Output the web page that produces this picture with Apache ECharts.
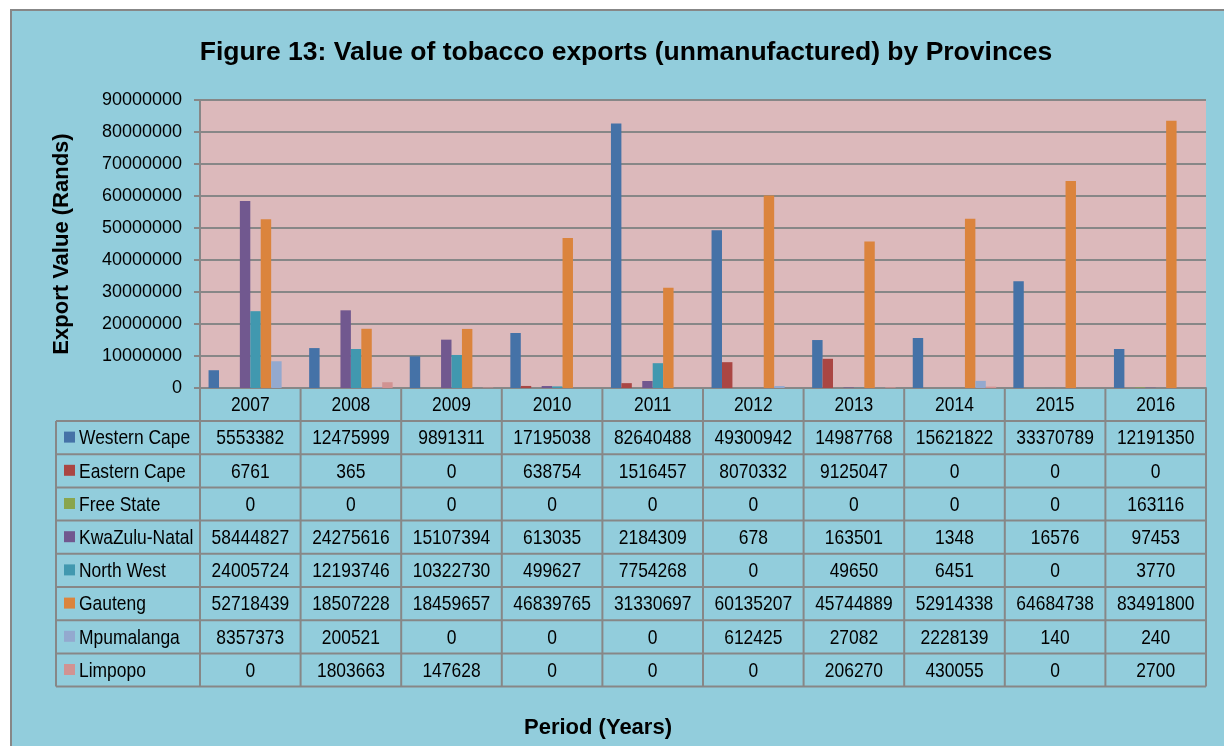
<!DOCTYPE html>
<html>
<head>
    <meta charset="utf-8" />
    <title>Value of tobacco exports by Provinces</title>
    <script type="text/javascript" src="https://cdn.jsdelivr.net/npm/echarts@6/dist/echarts.min.js"></script>
    <style>
        html, body { margin: 0; padding: 0; background: #ffffff; }
    </style>
</head>
<body>
<div id="main" style="width: 1224px;height:746px;"></div>
<script type="text/javascript">
    // data
    var years = ['2007', '2008', '2009', '2010', '2011', '2012', '2013', '2014', '2015', '2016'];
    var provinces = ['Western Cape', 'Eastern Cape', 'Free State', 'KwaZulu-Natal', 'North West', 'Gauteng', 'Mpumalanga', 'Limpopo'];
    var westernCape  = [5553382, 12475999, 9891311, 17195038, 82640488, 49300942, 14987768, 15621822, 33370789, 12191350];
    var easternCape  = [6761, 365, 0, 638754, 1516457, 8070332, 9125047, 0, 0, 0];
    var freeState    = [0, 0, 0, 0, 0, 0, 0, 0, 0, 163116];
    var kwaZuluNatal = [58444827, 24275616, 15107394, 613035, 2184309, 678, 163501, 1348, 16576, 97453];
    var northWest    = [24005724, 12193746, 10322730, 499627, 7754268, 0, 49650, 6451, 0, 3770];
    var gauteng      = [52718439, 18507228, 18459657, 46839765, 31330697, 60135207, 45744889, 52914338, 64684738, 83491800];
    var mpumalanga   = [8357373, 200521, 0, 0, 0, 612425, 27082, 2228139, 140, 240];
    var limpopo      = [0, 1803663, 147628, 0, 0, 0, 206270, 430055, 0, 2700];
    var yTicks = [0, 10000000, 20000000, 30000000, 40000000, 50000000, 60000000, 70000000, 80000000, 90000000];

    var rows = [westernCape, easternCape, freeState, kwaZuluNatal, northWest, gauteng, mpumalanga, limpopo];
    var colors = ['#4572A7', '#AA4643', '#89A54E', '#71588F', '#4198AF', '#DB843D', '#93A9CF', '#D19392'];

    var fontMain = "'Liberation Sans', Arial, sans-serif";
    var lineColor = '#878787';
    var squeeze = 0.83;   // no narrow font installed, so table text is squeezed

    var myChart = echarts.init(document.getElementById('main'));

    var series = [];
    for (var i = 0; i < provinces.length; i++) {
        series.push({
            name: provinces[i],
            type: 'bar',
            data: rows[i],
            barGap: '0%',
            barCategoryGap: '17%',
            itemStyle: { color: colors[i] }
        });
    }

    var option = {
        backgroundColor: '#ffffff',
        animation: false,
        color: colors,
        title: {
            text: 'Figure 13: Value of tobacco exports (unmanufactured) by Provinces',
            left: 621,
            textAlign: 'center',
            top: 34,
            textStyle: { fontFamily: fontMain, fontSize: 26.5, fontWeight: 'bold', color: '#000' }
        },
        grid: {
            left: 200,
            top: 100,
            width: 1006,
            height: 288,
            show: true,
            backgroundColor: '#DCB9BB',
            borderWidth: 0
        },
        xAxis: {
            type: 'category',
            data: years,
            axisLine: { lineStyle: { color: lineColor, width: 2 } },
            axisTick: { show: false },
            axisLabel: { show: false }
        },
        yAxis: {
            type: 'value',
            min: yTicks[0],
            max: yTicks[yTicks.length - 1],
            interval: 10000000,
            name: 'Export Value (Rands)',
            nameLocation: 'middle',
            nameGap: 127,
            nameTextStyle: { fontFamily: fontMain, fontSize: 22, fontWeight: 'bold', color: '#000' },
            axisLine: { show: true, lineStyle: { color: lineColor, width: 2 } },
            axisTick: { show: true, inside: false, length: 6, lineStyle: { color: lineColor, width: 2 } },
            axisLabel: {
                margin: 18, fontFamily: fontMain, fontSize: 18, color: '#000',
                formatter: function (v) { return String(v); }
            },
            splitLine: { lineStyle: { color: lineColor, width: 2 } }
        },
        series: series
    };
    myChart.setOption(option);

    // data table under the plot, columns lined up with the category axis
    function buildTable() {
        var els = [];
        var top = 388, headH = 33, rowH = 33.2;
        var left = 56, plotL = 200, plotR = 1206;
        var colW = (plotR - plotL) / years.length;
        var bottom = top + headH + rowH * provinces.length;
        var cellFont = '21px ' + fontMain;

        // outer panel
        els.push({ type: 'rect', z: -10, shape: { x: 11, y: 10, width: 1230, height: 760 },
            style: { fill: '#92CDDC', stroke: lineColor, lineWidth: 2 } });

        for (var j = 0; j < years.length; j++) {
            var cx = myChart.convertToPixel({ xAxisIndex: 0 }, j);
            els.push({ type: 'text', x: cx, y: top + headH / 2 + 1, scaleX: squeeze,
                style: { text: years[j], align: 'center', verticalAlign: 'middle',
                    font: cellFont, fill: '#000' } });
            for (var i = 0; i < provinces.length; i++) {
                els.push({ type: 'text', x: cx, y: top + headH + rowH * i + rowH / 2 + 1, scaleX: squeeze,
                    style: { text: String(rows[i][j]), align: 'center', verticalAlign: 'middle',
                        font: cellFont, fill: '#000' } });
            }
        }
        // legend column
        for (var i = 0; i < provinces.length; i++) {
            var ry = top + headH + rowH * i;
            els.push({ type: 'rect', shape: { x: 64, y: ry + rowH / 2 - 6, width: 11, height: 11 },
                style: { fill: colors[i] } });
            els.push({ type: 'text', x: 79, y: ry + rowH / 2 + 1, scaleX: squeeze,
                style: { text: provinces[i], align: 'left', verticalAlign: 'middle',
                    font: cellFont, fill: '#000' } });
        }
        // table rules
        var ls = { stroke: lineColor, lineWidth: 2 };
        for (var i = 0; i <= provinces.length; i++) {
            var yy = top + headH + rowH * i;
            els.push({ type: 'line', shape: { x1: left, y1: yy, x2: plotR, y2: yy }, style: ls });
        }
        for (var j = 0; j <= years.length; j++) {
            var xx = plotL + colW * j;
            els.push({ type: 'line', shape: { x1: xx, y1: top, x2: xx, y2: bottom }, style: ls });
        }
        els.push({ type: 'line', shape: { x1: left, y1: top + headH, x2: left, y2: bottom }, style: ls });

        // x axis title
        els.push({ type: 'text', x: 598, y: 728,
            style: { text: 'Period (Years)', align: 'center', verticalAlign: 'middle',
                font: 'bold 22px ' + fontMain, fill: '#000' } });

        myChart.setOption({ graphic: { elements: els } });
    }
    buildTable();
</script>
</body>
</html>
